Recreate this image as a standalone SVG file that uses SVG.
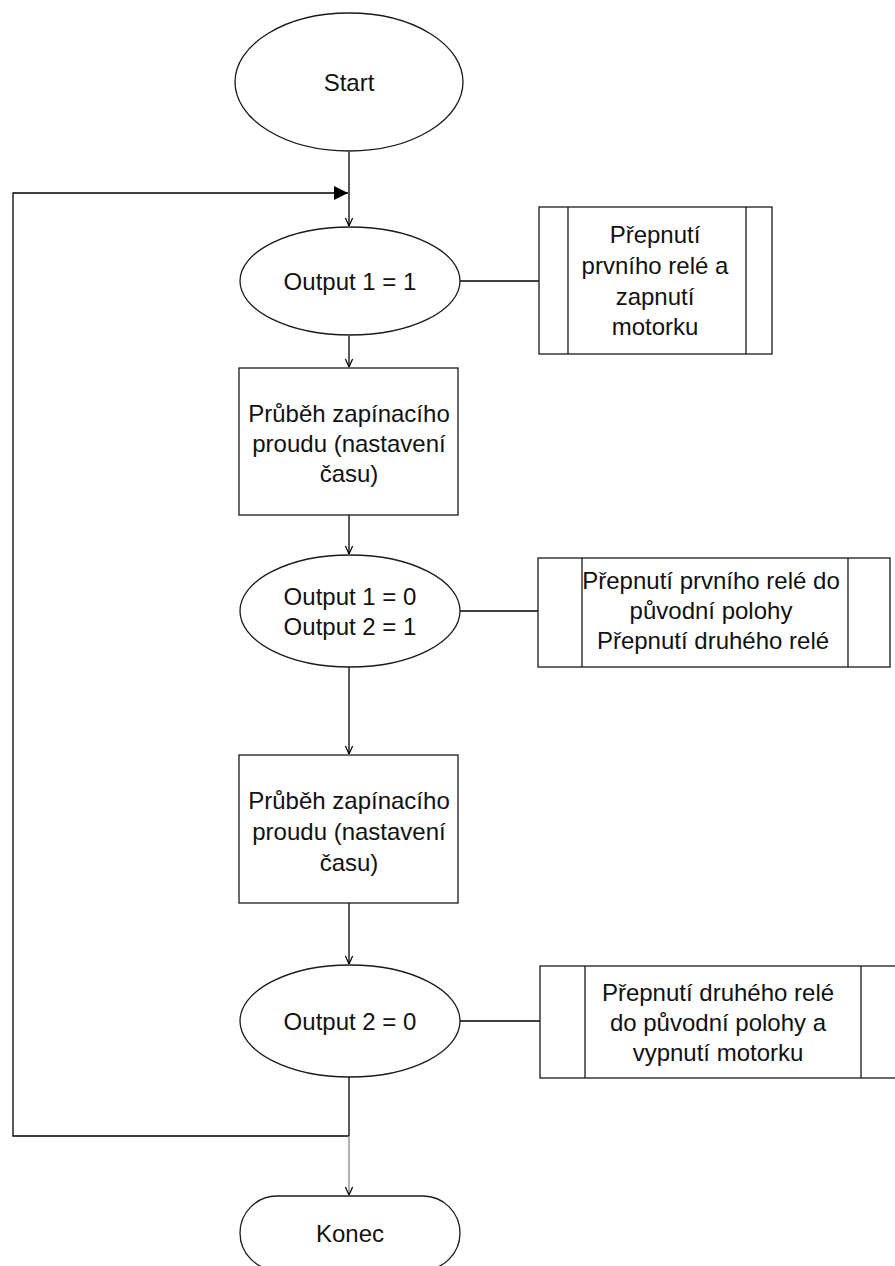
<svg xmlns="http://www.w3.org/2000/svg" width="895" height="1266" viewBox="0 0 895 1266">
<style>
.shape{fill:#fff;stroke:#1a1a1a;stroke-width:1.3}
.line{fill:none;stroke:#000;stroke-width:1.3}
.t{font-family:"Liberation Sans",Arial,sans-serif;font-size:24px;fill:#111;text-anchor:middle;dominant-baseline:central}
</style>
<defs>
<marker id="vee" viewBox="0 0 10 10" refX="10" refY="5" markerWidth="9" markerHeight="9" markerUnits="userSpaceOnUse" orient="auto">
<path d="M1,1 L10,5 L1,9" fill="none" stroke="#000" stroke-width="1.4"/>
</marker>
<marker id="tri" viewBox="0 0 10 10" refX="10" refY="5" markerWidth="17" markerHeight="14" markerUnits="userSpaceOnUse" orient="auto">
<path d="M0,0 L10,5 L0,10 Z" fill="#000"/>
</marker>
</defs>
<rect width="895" height="1266" fill="#fff"/>
<g id="connectors">
<path class="line" d="M349,152 V226" marker-end="url(#vee)"/>
<path class="line" d="M349,1136 H13 V193 H348" marker-end="url(#tri)"/>
<path class="line" d="M460,281 H539"/>
<path class="line" d="M349,336 V367" marker-end="url(#vee)"/>
<path class="line" d="M349,515 V554" marker-end="url(#vee)"/>
<path class="line" d="M460,611 H538"/>
<path class="line" d="M349,667 V754" marker-end="url(#vee)"/>
<path class="line" d="M349,903 V964" marker-end="url(#vee)"/>
<path class="line" d="M460,1021 H540"/>
<path class="line" d="M349,1077 V1136"/>
<path class="line" d="M349,1136 V1195" style="stroke:#888" marker-end="url(#vee)"/>
</g>
<g id="start">
<ellipse class="shape" cx="349" cy="82" rx="114" ry="69"/>
<text class="t" x="349" y="82">Start</text>
</g>
<g id="out1">
<ellipse class="shape" cx="350" cy="281" rx="110" ry="54"/>
<text class="t" x="350" y="281">Output 1 = 1</text>
</g>
<g id="sub1">
<rect class="shape" x="539" y="207" width="233" height="147"/>
<line class="shape" x1="568" y1="207" x2="568" y2="354"/>
<line class="shape" x1="746" y1="207" x2="746" y2="354"/>
<text class="t" x="655" y="234">Přepnutí</text>
<text class="t" x="655" y="265">prvního relé a</text>
<text class="t" x="655" y="296">zapnutí</text>
<text class="t" x="655" y="326">motorku</text>
</g>
<g id="proc1">
<rect class="shape" x="239" y="368" width="219" height="147"/>
<text class="t" x="349" y="413">Průběh zapínacího</text>
<text class="t" x="349" y="443">proudu (nastavení</text>
<text class="t" x="349" y="473">času)</text>
</g>
<g id="out2">
<ellipse class="shape" cx="350" cy="611" rx="110" ry="56"/>
<text class="t" x="350" y="596">Output 1 = 0</text>
<text class="t" x="350" y="626">Output 2 = 1</text>
</g>
<g id="sub2">
<rect class="shape" x="538" y="558" width="352" height="109"/>
<line class="shape" x1="582" y1="558" x2="582" y2="667"/>
<line class="shape" x1="848" y1="558" x2="848" y2="667"/>
<text class="t" x="711" y="580">Přepnutí prvního relé do</text>
<text class="t" x="711" y="610">původní polohy</text>
<text class="t" x="713" y="640">Přepnutí druhého relé</text>
</g>
<g id="proc2">
<rect class="shape" x="239" y="755" width="219" height="148"/>
<text class="t" x="349" y="800">Průběh zapínacího</text>
<text class="t" x="349" y="831">proudu (nastavení</text>
<text class="t" x="349" y="862">času)</text>
</g>
<g id="out3">
<ellipse class="shape" cx="350" cy="1021" rx="110" ry="56"/>
<text class="t" x="350" y="1021">Output 2 = 0</text>
</g>
<g id="sub3">
<rect class="shape" x="540" y="966" width="360" height="112"/>
<line class="shape" x1="585" y1="966" x2="585" y2="1078"/>
<line class="shape" x1="861" y1="966" x2="861" y2="1078"/>
<text class="t" x="718" y="992">Přepnutí druhého relé</text>
<text class="t" x="718" y="1022">do původní polohy a</text>
<text class="t" x="718" y="1052">vypnutí motorku</text>
</g>
<g id="konec">
<rect class="shape" x="240" y="1196" width="220" height="74" rx="37" ry="37"/>
<text class="t" x="350" y="1233">Konec</text>
</g>
</svg>
